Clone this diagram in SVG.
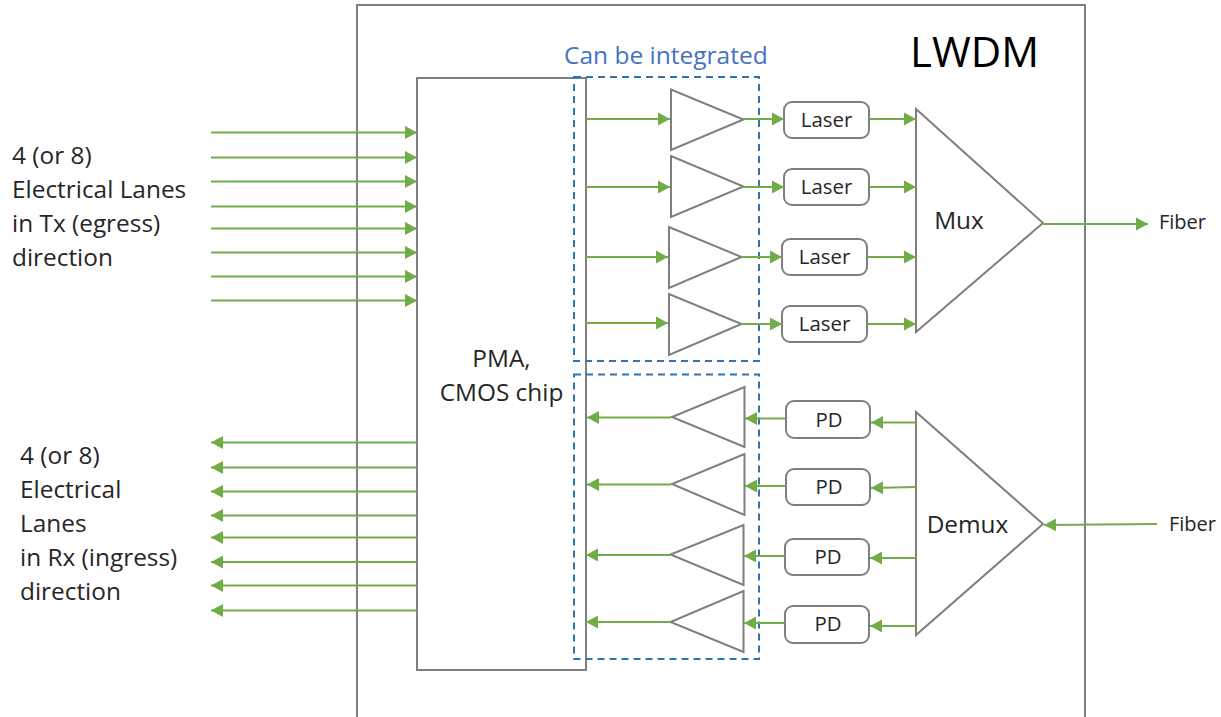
<svg xmlns="http://www.w3.org/2000/svg" width="1221" height="717" viewBox="0 0 1221 717">
<style>
.s{fill:none;stroke:#7f7f7f;stroke-width:2}
.w{fill:#fff;stroke:#7f7f7f;stroke-width:2}
.d{fill:none;stroke:#2e75b6;stroke-width:2;stroke-dasharray:7 5}
.c line{stroke:#70ad47;stroke-width:2.200;marker-end:url(#a)}
text{font-family:"Open Sans","Noto Sans",sans-serif;fill:#262626}
.b{font-size:20.400px;text-anchor:middle}
.l{font-size:24.400px}
</style>
<defs><marker id="a" markerUnits="userSpaceOnUse" markerWidth="14" markerHeight="14" refX="12" refY="7" orient="auto"><path d="M0 0.500L12 7L0 13.500z" fill="#70ad47"/></marker></defs>
<rect width="1221" height="717" fill="#fff"/>
<g id="lwdm"><path class="s" d="M357 717V5H1085V717"/><text x="910" y="67" font-size="42" style="fill:#000">LWDM</text></g>
<g id="pma"><rect class="w" x="417" y="78" width="169" height="592"/><text class="l" x="501.500" y="367" text-anchor="middle">PMA,</text><text class="l" x="501.500" y="401" text-anchor="middle">CMOS chip</text></g>
<g id="integrated"><text x="564" y="64" font-size="24.500" style="fill:#4472c4">Can be integrated</text><rect class="d" x="574" y="77" width="185" height="284"/><rect class="d" x="574" y="374.500" width="185" height="284.500"/></g>
<g id="amps">
<path class="s" d="M671 89.500V150L743.500 119.500z"/><path class="s" d="M671 156V217L743.500 186.500z"/><path class="s" d="M669 227V288L741.500 257z"/><path class="s" d="M669 294V355L741.500 324z"/>
<path class="s" d="M744.500 387V447L672 417z"/><path class="s" d="M744.500 454V515L672 484z"/><path class="s" d="M743.500 525V585L670.500 554.500z"/><path class="s" d="M743.500 591V652L670.500 622z"/>
</g>
<g id="lasers">
<g id="laser1"><rect class="s" x="784" y="102" width="85" height="36" rx="8"/><text class="b" x="826.500" y="127">Laser</text></g>
<g id="laser2"><rect class="s" x="784" y="169" width="85" height="36" rx="8"/><text class="b" x="826.500" y="194">Laser</text></g>
<g id="laser3"><rect class="s" x="782" y="239" width="85" height="36" rx="8"/><text class="b" x="824.500" y="264">Laser</text></g>
<g id="laser4"><rect class="s" x="782" y="306" width="85" height="36" rx="8"/><text class="b" x="824.500" y="331">Laser</text></g>
</g>
<g id="pds">
<g id="pd1"><rect class="s" x="786" y="401" width="84" height="37" rx="8"/><text class="b" x="829" y="427">PD</text></g>
<g id="pd2"><rect class="s" x="786" y="469" width="84" height="36" rx="8"/><text class="b" x="829" y="494">PD</text></g>
<g id="pd3"><rect class="s" x="785" y="539" width="84" height="36" rx="8"/><text class="b" x="828" y="564">PD</text></g>
<g id="pd4"><rect class="s" x="785" y="606" width="84" height="37" rx="8"/><text class="b" x="828" y="631">PD</text></g>
</g>
<g id="mux"><path class="s" d="M916 109V332L1043 223z"/><text class="l" x="959" y="229" text-anchor="middle">Mux</text></g>
<g id="demux"><path class="s" d="M916 412V635L1043 524z"/><text class="l" x="967.500" y="533" text-anchor="middle">Demux</text></g>
<g class="c" id="connectors">
<line x1="211" y1="132.500" x2="417" y2="132.500"/><line x1="211" y1="157.500" x2="417" y2="157.500"/><line x1="211" y1="181.500" x2="417" y2="181.500"/><line x1="211" y1="206.500" x2="417" y2="206.500"/><line x1="211" y1="228.500" x2="417" y2="228.500"/><line x1="211" y1="252.500" x2="417" y2="252.500"/><line x1="211" y1="276.500" x2="417" y2="276.500"/><line x1="211" y1="300.500" x2="417" y2="300.500"/>
<line x1="417" y1="442.500" x2="211" y2="442.500"/><line x1="417" y1="467.500" x2="211" y2="467.500"/><line x1="417" y1="491.500" x2="211" y2="491.500"/><line x1="417" y1="515.500" x2="211" y2="515.500"/><line x1="417" y1="537.500" x2="211" y2="537.500"/><line x1="417" y1="562" x2="211" y2="562"/><line x1="417" y1="585.500" x2="211" y2="585.500"/><line x1="417" y1="610.500" x2="211" y2="610.500"/>
<line x1="586" y1="119" x2="670" y2="119"/><line x1="586" y1="187" x2="670" y2="187"/><line x1="586" y1="257" x2="668" y2="257"/><line x1="586" y1="323" x2="668" y2="323"/>
<line x1="743" y1="119" x2="784" y2="119"/><line x1="743" y1="187" x2="784" y2="187"/><line x1="741" y1="257" x2="782" y2="257"/><line x1="741" y1="324" x2="782" y2="324"/>
<line x1="869" y1="119" x2="916" y2="119"/><line x1="869" y1="187" x2="916" y2="187"/><line x1="867" y1="257" x2="916" y2="257"/><line x1="867" y1="324" x2="916" y2="324"/>
<line x1="1043" y1="224" x2="1148" y2="224"/><line x1="1157" y1="524" x2="1044" y2="525"/>
<line x1="916" y1="422.500" x2="871" y2="422.500"/><line x1="916" y1="487" x2="871" y2="488"/><line x1="916" y1="558" x2="870" y2="558"/><line x1="916" y1="626" x2="870" y2="626"/>
<line x1="786" y1="418.500" x2="745" y2="418.500"/><line x1="786" y1="486" x2="745" y2="486"/><line x1="785" y1="556" x2="744" y2="556"/><line x1="785" y1="623" x2="744" y2="623"/>
<line x1="671" y1="417.500" x2="587" y2="417.500"/><line x1="671" y1="484.500" x2="587" y2="484.500"/><line x1="670" y1="555" x2="586" y2="555"/><line x1="670" y1="622" x2="586" y2="622"/>
</g>
<g id="labels">
<text x="1159" y="229" font-size="20">Fiber</text><text x="1169" y="531" font-size="20">Fiber</text>
<text class="l" x="12" y="164">4 (or 8)</text><text class="l" x="12" y="198">Electrical Lanes</text><text class="l" x="12" y="232">in Tx (egress)</text><text class="l" x="12" y="266">direction</text>
<text class="l" x="20" y="464">4 (or 8)</text><text class="l" x="20" y="498">Electrical</text><text class="l" x="20" y="532">Lanes</text><text class="l" x="20" y="566">in Rx (ingress)</text><text class="l" x="20" y="600">direction</text>
</g>
</svg>
